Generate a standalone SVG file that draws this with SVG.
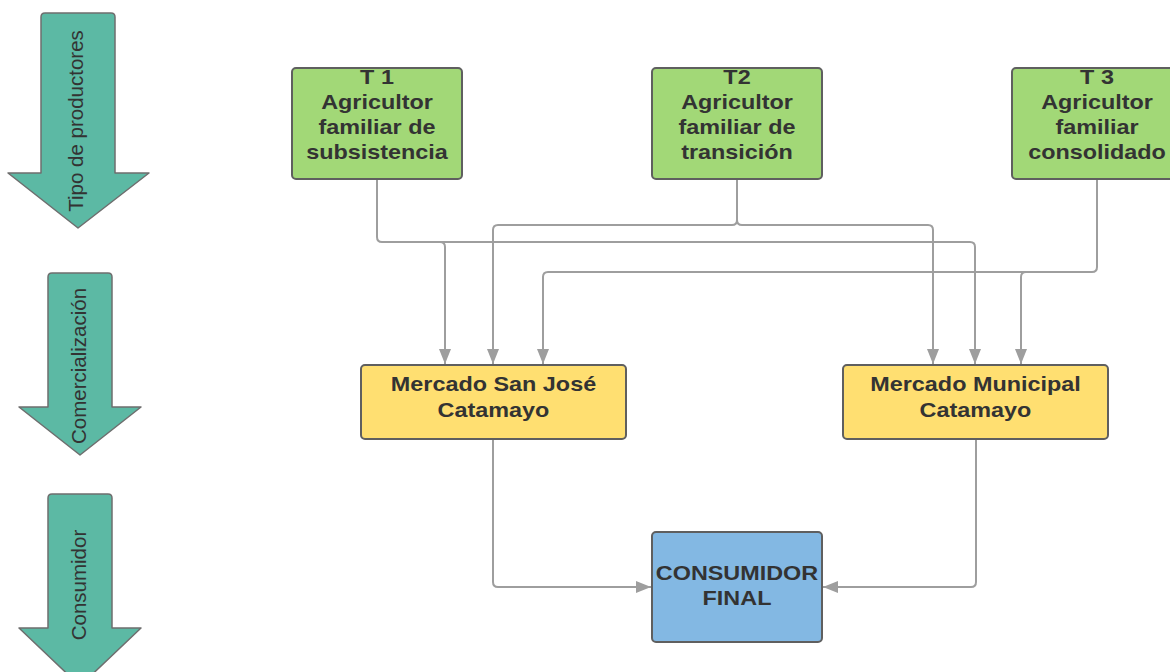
<svg xmlns="http://www.w3.org/2000/svg" width="1170" height="672" viewBox="0 0 1170 672">
<style>
  .bg{fill:#ffffff}
  .band{fill:#5cb9a4;stroke:#6e6e6e;stroke-width:1.5;stroke-linejoin:round}
  .bandtxt{font-family:"Liberation Sans",Arial,sans-serif;font-size:20.5px;fill:#333333;text-anchor:middle}
  .green{fill:#a2d877;stroke:#5f5f5f;stroke-width:2}
  .yellow{fill:#ffdf71;stroke:#5f5f5f;stroke-width:2}
  .blue{fill:#83b8e3;stroke:#5f5f5f;stroke-width:2}
  .nt{font-family:"Liberation Sans",Arial,sans-serif;font-size:20px;font-weight:bold;fill:#333333;text-anchor:middle}
  .conn{fill:none;stroke:#9e9e9e;stroke-width:2}
</style>
<defs>
  <marker id="ah" markerUnits="userSpaceOnUse" markerWidth="15" markerHeight="12" refX="15" refY="6" orient="auto">
    <path d="M0,0 L15,6 L0,12 Z" fill="#9e9e9e"/>
  </marker>
</defs>
<rect class="bg" x="0" y="0" width="1170" height="672"/>

<g id="stage-productores">
  <path class="band" d="M45,13 H111 Q115,13 115,17 V173 H149 L78,228 L8,173 H41 V17 Q41,13 45,13 Z"/>
  <text class="bandtxt" transform="translate(83 121) rotate(-90)">Tipo de productores</text>
</g>
<g id="stage-comercializacion">
  <path class="band" d="M52,273 H108 Q112,273 112,277 V407 H141 L80,455 L19,407 H48 V277 Q48,273 52,273 Z"/>
  <text class="bandtxt" transform="translate(86 366) rotate(-90)">Comercialización</text>
</g>
<g id="stage-consumidor">
  <path class="band" d="M52,494 H108 Q112,494 112,498 V628 H141 L80,686 L19,628 H48 V498 Q48,494 52,494 Z"/>
  <text class="bandtxt" transform="translate(86 585) rotate(-90)">Consumidor</text>
</g>

<g id="connectors">
  <path class="conn" d="M377,180 V237 Q377,242 382,242 H970 Q975,242 975,247 V364" marker-end="url(#ah)"/>
  <path class="conn" d="M440,242 Q445,242 445,247 V364" marker-end="url(#ah)"/>
  <path class="conn" d="M737,180 V220 Q737,225 732,225 H498 Q493,225 493,230 V364" marker-end="url(#ah)"/>
  <path class="conn" d="M737,220 Q737,225 742,225 H928 Q933,225 933,230 V364" marker-end="url(#ah)"/>
  <path class="conn" d="M1097,180 V267 Q1097,272 1092,272 H548 Q543,272 543,277 V364" marker-end="url(#ah)"/>
  <path class="conn" d="M1026,272 Q1021,272 1021,277 V364" marker-end="url(#ah)"/>
  <path class="conn" d="M493,439 V582 Q493,587 498,587 H651" marker-end="url(#ah)"/>
  <path class="conn" d="M976,439 V582 Q976,587 971,587 H823" marker-end="url(#ah)"/>
</g>

<g id="t1">
  <rect class="green" x="292" y="68" width="170" height="111" rx="4"/>
  <text class="nt" transform="translate(377 0) scale(1.17 1)"><tspan x="0" y="84">T 1</tspan><tspan x="0" y="109">Agricultor</tspan><tspan x="0" y="134">familiar de</tspan><tspan x="0" y="159">subsistencia</tspan></text>
</g>
<g id="t2">
  <rect class="green" x="652" y="68" width="170" height="111" rx="4"/>
  <text class="nt" transform="translate(737 0) scale(1.17 1)"><tspan x="0" y="84">T2</tspan><tspan x="0" y="109">Agricultor</tspan><tspan x="0" y="134">familiar de</tspan><tspan x="0" y="159">transición</tspan></text>
</g>
<g id="t3">
  <rect class="green" x="1012" y="68" width="170" height="111" rx="4"/>
  <text class="nt" transform="translate(1097 0) scale(1.17 1)"><tspan x="0" y="84">T 3</tspan><tspan x="0" y="109">Agricultor</tspan><tspan x="0" y="134">familiar</tspan><tspan x="0" y="159">consolidado</tspan></text>
</g>
<g id="mercado-san-jose">
  <rect class="yellow" x="361" y="365" width="265" height="74" rx="4"/>
  <text class="nt" transform="translate(493.5 0) scale(1.17 1)"><tspan x="0" y="391">Mercado San José</tspan><tspan x="0" y="417">Catamayo</tspan></text>
</g>
<g id="mercado-municipal">
  <rect class="yellow" x="843" y="365" width="265" height="74" rx="4"/>
  <text class="nt" transform="translate(975.5 0) scale(1.17 1)"><tspan x="0" y="391">Mercado Municipal</tspan><tspan x="0" y="417">Catamayo</tspan></text>
</g>
<g id="consumidor-final">
  <rect class="blue" x="652" y="532" width="170" height="110" rx="4"/>
  <text class="nt" transform="translate(737 0) scale(1.17 1)"><tspan x="0" y="580">CONSUMIDOR</tspan><tspan x="0" y="605">FINAL</tspan></text>
</g>
</svg>
